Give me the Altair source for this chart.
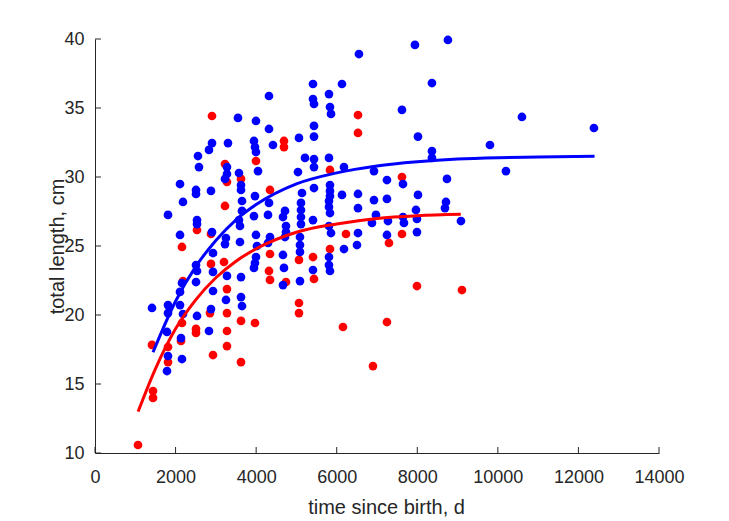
import altair as alt
import pandas as pd

# ---- data ----
blue_t = [1415, 1812, 1812, 1812, 1787, 1812, 1787, 2110, 2184, 2110, 2159, 2110, 2110, 2184, 2135, 2159,
          2556, 2581, 2507, 2507, 2532, 2532, 2507, 2532, 2507, 2532, 2904, 2829, 2879, 2904, 2929, 2929,
          2929, 2879, 2829, 3301, 3276, 3276, 3227, 3251, 3227, 3276, 3251, 3549, 3574, 3624, 3624, 3649,
          3649, 3574, 3599, 3599, 3624, 3624, 3649, 3996, 3946, 3971, 3996, 4046, 3971, 3946, 3996, 4021,
          3996, 3971, 3946, 4319, 4319, 4418, 4319, 4294, 4344, 4294, 4716, 4666, 4741, 4741, 4716, 4666,
          4691, 4666, 5038, 5063, 5138, 5113, 5113, 5113, 5113, 5088, 5088, 5088, 5088, 5212, 5411, 5411,
          5436, 5436, 5436, 5436, 5436, 5436, 5411, 5411, 5808, 5833, 5858, 5808, 5833, 5833, 5833, 5808,
          5808, 5833, 5808, 5858, 5808, 5808, 5833, 6131, 6180, 6131, 6180, 6552, 6528, 6528, 6528, 6503,
          6925, 6925, 6974, 6875, 7247, 7247, 7272, 7247, 7620, 7645, 7645, 7669, 7942, 8017, 8017, 7967,
          7992, 7992, 8364, 8364, 8364, 8737, 8712, 8687, 8761, 9084, 9804, 10201, 10598, 12385]
blue_L = [20.51, 27.25, 20.72, 20.14, 18.77, 17.03, 15.94, 29.49, 28.19, 25.80, 22.32, 21.67, 20.72, 20.07, 18.33, 16.81,
          31.52, 30.72, 29.06, 28.77, 26.88, 26.59, 23.62, 23.19, 22.39, 19.93, 32.46, 31.96, 28.99, 26.01, 24.49, 23.12,
          21.74, 20.43, 18.84, 32.46, 30.72, 30.22, 29.86, 25.58, 25.14, 22.83, 21.09, 34.28, 30.29, 29.42, 29.06, 28.26,
          27.54, 26.88, 26.45, 25.29, 22.75, 21.30, 20.65, 34.06, 32.61, 32.17, 31.81, 30.43, 28.62, 27.17, 25.80, 25.00,
          24.20, 23.77, 23.41, 35.87, 33.48, 32.32, 28.12, 27.25, 25.65, 25.22, 27.54, 27.10, 26.45, 26.01, 25.65, 24.35,
          23.41, 22.17, 30.36, 32.83, 28.84, 28.12, 27.61, 27.10, 26.59, 25.65, 25.07, 24.57, 22.46, 31.38, 36.74, 35.65,
          35.29, 33.70, 32.93, 31.30, 30.72, 29.20, 26.88, 23.26, 36.01, 35.07, 34.57, 31.38, 29.42, 28.99, 28.62, 28.26,
          27.83, 27.39, 26.45, 25.94, 24.20, 23.62, 23.19, 36.74, 30.72, 28.70, 24.78, 38.91, 28.77, 27.75, 25.94, 25.07,
          30.43, 28.33, 27.25, 26.67, 29.78, 28.41, 26.81, 25.80, 34.86, 29.49, 27.10, 26.67, 39.57, 32.93, 28.70, 27.61,
          26.96, 26.01, 36.81, 31.88, 31.38, 29.86, 28.19, 27.75, 39.93, 26.81, 32.32, 30.43, 34.35, 33.55]

red_t = [1067, 1440, 1440, 1415, 1812, 1812, 2135, 2159, 2159, 2184, 2507, 2507, 2532, 2854, 2879, 2879,
         2929, 2904, 3227, 3227, 3202, 3276, 3276, 3276, 3276, 3276, 3624, 3624, 3624, 3971, 3996, 4344,
         4344, 4319, 4344, 4691, 4691, 4741, 5063, 5063, 5063, 5411, 5436, 5833, 5833, 6155, 6230, 6528,
         6528, 6900, 7247, 7297, 7620, 7620, 7992, 9109]
red_L = [10.58, 14.49, 13.99, 17.83, 17.68, 16.59, 18.12, 19.42, 24.93, 22.46, 18.99, 18.70, 26.16, 20.14, 25.87, 23.70,
         17.10, 34.42, 30.94, 27.90, 23.84, 29.64, 21.88, 20.14, 18.84, 17.75, 29.86, 19.57, 16.59, 19.42, 31.16, 29.06,
         24.42, 23.19, 22.54, 32.61, 32.17, 22.39, 23.99, 20.87, 20.14, 24.20, 22.61, 30.51, 24.78, 19.13, 25.87, 34.49,
         33.19, 16.30, 19.49, 25.22, 30.00, 25.87, 22.10, 21.81]

blue_fit_t = [1440, 2000, 2500, 3000, 3500, 4000, 5000, 6000, 7000, 8000, 9000, 10000, 11000, 12400]
blue_fit_L = [17.3, 21.0, 23.5, 25.4, 26.9, 28.0, 29.5, 30.3, 30.8, 31.1, 31.3, 31.4, 31.45, 31.5]
red_fit_t = [1070, 1500, 2000, 2500, 3000, 3500, 4000, 5000, 6000, 7000, 8000, 9080]
red_fit_L = [13.0, 16.1, 19.0, 21.1, 22.7, 23.9, 24.8, 26.0, 26.6, 27.0, 27.2, 27.3]

x_ticks = [0, 2000, 4000, 6000, 8000, 10000, 12000, 14000]
y_ticks = [10, 15, 20, 25, 30, 35, 40]

# ---- build ----
W, H = 564, 414
INK = "#262626"
FONT = "Liberation Sans"

xs = alt.Scale(domain=[0, 14000], nice=False, zero=False)
ys = alt.Scale(domain=[10, 40], nice=False, zero=False)

blue = pd.DataFrame({"t": blue_t, "L": blue_L})
red = pd.DataFrame({"t": red_t, "L": red_L})
bfit = pd.DataFrame({"t": blue_fit_t, "L": blue_fit_L})
rfit = pd.DataFrame({"t": red_fit_t, "L": red_fit_L})
xt = pd.DataFrame({"v": x_ticks})
yt = pd.DataFrame({"v": y_ticks})

x_axis = alt.Axis(values=x_ticks, format="d", tickSize=0, grid=False, domainColor=INK, domainWidth=1,
                  labelColor=INK, labelFont=FONT, labelFontSize=18, labelPadding=15,
                  labelFlush=False, labelOverlap=False,
                  title="time since birth, d", titleColor=INK, titleFont=FONT, titleFontSize=20,
                  titleFontWeight="normal", titlePadding=11, titleX=291, titleAlign="center")
y_axis = alt.Axis(values=y_ticks, format="d", tickSize=0, grid=False, domainColor=INK, domainWidth=1,
                  labelColor=INK, labelFont=FONT, labelFontSize=18, labelPadding=11,
                  labelFlush=False, labelOverlap=False,
                  title="total length, cm", titleColor=INK, titleFont=FONT, titleFontSize=20,
                  titleFontWeight="normal", titleAngle=-90, titleBaseline="middle", titleAlign="center",
                  titleX=-38, titleY=H / 2)

red_pts = alt.Chart(red).mark_circle(size=76, opacity=1, color="#FF0000").encode(
    x=alt.X("t:Q", scale=xs, axis=x_axis),
    y=alt.Y("L:Q", scale=ys, axis=y_axis),
)
blue_pts = alt.Chart(blue).mark_circle(size=76, opacity=1, color="#0000FF").encode(
    x=alt.X("t:Q", scale=xs), y=alt.Y("L:Q", scale=ys)
)
red_line = alt.Chart(rfit).mark_line(color="#FF0000", strokeWidth=3, interpolate="monotone").encode(
    x=alt.X("t:Q", scale=xs), y=alt.Y("L:Q", scale=ys)
)
blue_line = alt.Chart(bfit).mark_line(color="#0000FF", strokeWidth=3, interpolate="monotone").encode(
    x=alt.X("t:Q", scale=xs), y=alt.Y("L:Q", scale=ys)
)
x_tick_marks = alt.Chart(xt).mark_rule(color=INK, strokeWidth=1).encode(
    x=alt.X("v:Q", scale=xs), y=alt.value(H), y2=alt.value(H - 6)
)
y_tick_marks = alt.Chart(yt).mark_rule(color=INK, strokeWidth=1).encode(
    y=alt.Y("v:Q", scale=ys), x=alt.value(0), x2=alt.value(6)
)

chart = alt.layer(red_pts, blue_pts, red_line, blue_line, x_tick_marks, y_tick_marks).properties(
    width=W, height=H,
    padding={"left": 95, "top": 39, "right": 70, "bottom": 68},
    autosize=alt.AutoSizeParams(type="none"),
    background="white",
).configure_view(stroke=None)

chart.save("out.html", embed_options={"renderer": "svg", "actions": False})
